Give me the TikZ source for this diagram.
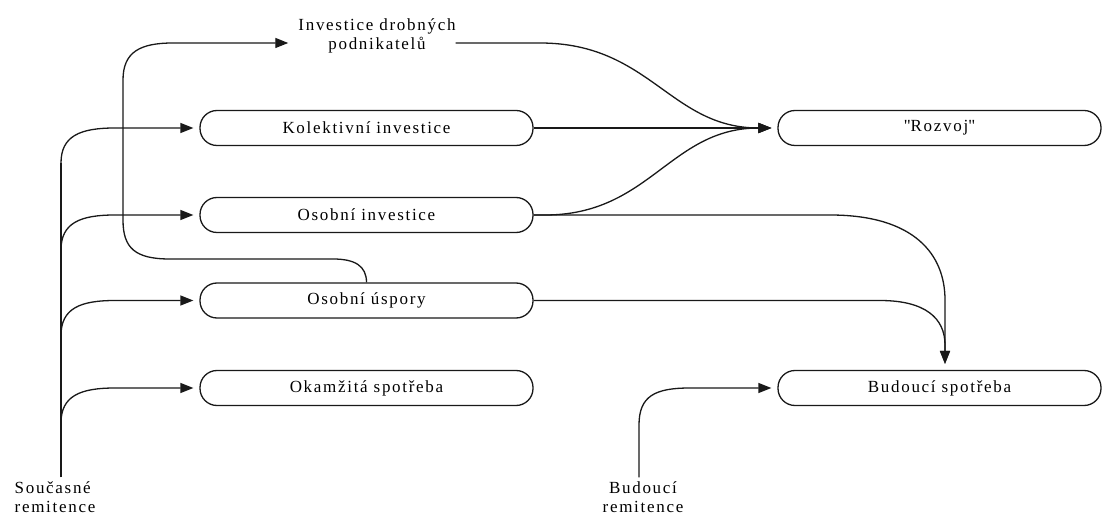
\documentclass[tikz,border=0pt]{standalone}
\usepackage{fontspec}
\setmainfont{Liberation Serif}[LetterSpace=10]
\newfontfamily\qf{Liberation Serif}[Ligatures=TeXOff]
\usetikzlibrary{arrows.meta}
\begin{document}
\begin{tikzpicture}[x=1pt,y=-1pt,
  line/.style={draw=black!90, line width=1.3pt},
  arr/.style={line, -{Triangle[length=13pt,width=10pt]}, shorten >=6pt},
  box/.style={draw=black!90, line width=1.3pt, rounded corners=17pt,
    minimum width=333pt, minimum height=35pt, inner sep=0pt,
    font=\fontsize{17}{20}\selectfont},
  lbl/.style={align=center, inner sep=4pt, font=\fontsize{17}{19}\selectfont}]
\useasboundingbox (0,0) rectangle (1103,518);
\fill[white] (0,0) rectangle (1103,518);

\node[box] (kol) at (366.5,128) {Kolektivní investice};
\node[box] (osi) at (366.5,215) {Osobní investice};
\node[box] (osu) at (366.5,300.5) {Osobní úspory};
\node[box] (oka) at (366.5,388) {Okamžitá spotřeba};
\node[box, minimum width=323pt] (roz) at (939.5,128) {{\qf"}Rozvoj{\qf"}};
\node[box, minimum width=323pt] (bud) at (939.5,388) {Budoucí spotřeba};
\node[lbl] (idp) at (377,36) {Investice drobných\\podnikatelů};
\node[lbl, align=left] (sr) at (55,497) {Současné\\remitence};
\node[lbl] (br) at (643,497) {Budoucí\\remitence};

% left trunk and branches
\draw[line] ([xshift=6pt]sr.north) -- (61,163);
\draw[arr] (61,163) .. controls (61,136) and (80,128) .. (115,128) -- (kol.west);
\draw[arr] (61,250) .. controls (61,223) and (80,215) .. (115,215) -- (osi.west);
\draw[arr] (61,335.5) .. controls (61,308.5) and (80,300.5) .. (115,300.5) -- (osu.west);
\draw[arr] (61,423) .. controls (61,396) and (80,388) .. (115,388) -- (oka.west);

% savings to small entrepreneurs
\draw[arr] (osu.north) .. controls (366.5,266) and (355,259) .. (333,259)
  -- (170,259) .. controls (135,259) and (123,248) .. (123,220)
  -- (123,80) .. controls (123,52) and (140,43) .. (173,43)
  -- ([yshift=-7pt]idp.west);

% to Rozvoj
\draw[arr] ([xshift=-4pt,yshift=-7pt]idp.east) -- (540,43) .. controls (650,43) and (670,128) .. (roz.west);
\draw[arr] (kol.east) -- (roz.west);
\draw[arr] (osi.east) -- (545,215) .. controls (650,215) and (670,128) .. (roz.west);

% to future consumption
\draw[arr] (osi.east) -- (830,215) .. controls (915,215) and (945,255) .. (945,300) -- ([xshift=5.5pt]bud.north);
\draw[arr] (osu.east) -- (880,300.5) .. controls (925,300.5) and (945,318) .. (945,345) -- ([xshift=5.5pt]bud.north);
\draw[arr] ([xshift=-4pt]br.north) -- (639,425) .. controls (639,396) and (655,388) .. (690,388) -- (bud.west);
\end{tikzpicture}
\end{document}
